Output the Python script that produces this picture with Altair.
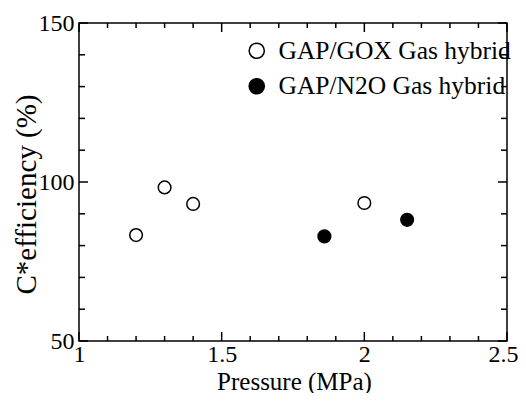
import altair as alt
import pandas as pd

# data
gox_p = [1.2, 1.3, 1.4, 2.0]
gox_e = [83.3, 98.3, 93.1, 93.4]
n2o_p = [1.86, 2.15]
n2o_e = [82.9, 88.1]
series = ["GAP/GOX Gas hybrid", "GAP/N2O Gas hybrid"]

x_major = [1.0, 1.5, 2.0, 2.5]
x_minor = [1.1, 1.2, 1.3, 1.4, 1.6, 1.7, 1.8, 1.9, 2.1, 2.2, 2.3, 2.4]
y_major = [50, 100, 150]
y_minor = [60, 70, 80, 90, 110, 120, 130, 140]

W, H = 428, 318
FONT = "Liberation Serif"

pts = pd.DataFrame({
    "x": gox_p + n2o_p,
    "y": gox_e + n2o_e,
    "s": [series[0]] * len(gox_p) + [series[1]] * len(n2o_p),
})

xs = alt.Scale(domain=[1, 2.5], nice=False, zero=False)
ys = alt.Scale(domain=[50, 150], nice=False, zero=False)

x_axis = alt.Axis(
    values=x_major, format=".1~f", ticks=False, domain=False, grid=False,
    labelFont=FONT, labelFontSize=24, labelColor="black", labelPadding=1,
    labelOverlap=False, labelBound=False, labelFlush=False,
    labelOffset={"condition": {"test": "datum.value >= 2.4", "value": -4}, "value": 0},
    title="Pressure (MPa)", titleFont=FONT, titleFontSize=25,
    titleFontWeight="normal", titleColor="black",
    titleX=215, titleY=48, titleBaseline="alphabetic",
)
y_axis = alt.Axis(
    values=y_major, format="d", ticks=False, domain=False, grid=False,
    labelFont=FONT, labelFontSize=24, labelColor="black", labelPadding=5,
    labelOverlap=False, labelBound=False, labelFlush=False,
    title="C*efficiency (%)", titleFont=FONT, titleFontSize=29,
    titleFontWeight="normal", titleColor="black",
    titleX=-38, titleY=171, titleBaseline="bottom",
)

X = alt.X("x:Q", scale=xs, axis=x_axis, title="Pressure (MPa)")
Y = alt.Y("y:Q", scale=ys, axis=y_axis, title="C*efficiency (%)")

points = alt.Chart(pts).mark_point(
    shape="circle", filled=True, size=160, stroke="black", strokeWidth=1.5, opacity=1
).encode(
    x=X,
    y=Y,
    fill=alt.Fill("s:N", scale=alt.Scale(domain=series, range=["white", "black"]),
                  legend=alt.Legend(
                      title=None, orient="none", legendX=165, legendY=15,
                      labelFont=FONT, labelFontSize=25.5, labelColor="black",
                      labelLimit=400, labelOffset=9, rowPadding=8.5, padding=0,
                      symbolType="circle", symbolSize=230,
                      symbolStrokeColor="black", symbolStrokeWidth=1.5,
                  )),
)


def xticks(vals, length):
    d = pd.DataFrame({"x": vals})
    base = alt.Chart(d).mark_rule(color="black", strokeWidth=1.5)
    bot = base.encode(x=X, y=alt.value(H), y2=alt.value(H - length))
    top = base.encode(x=X, y=alt.value(0), y2=alt.value(length))
    return [bot, top]


def yticks(vals, length):
    d = pd.DataFrame({"y": vals})
    base = alt.Chart(d).mark_rule(color="black", strokeWidth=1.5)
    left = base.encode(y=Y, x=alt.value(0), x2=alt.value(length))
    right = base.encode(y=Y, x=alt.value(W), x2=alt.value(W - length))
    return [left, right]


layers = xticks(x_minor, 5) + xticks(x_major, 9) + yticks(y_minor, 6) + yticks(y_major, 9) + [points]

chart = alt.layer(*layers).properties(
    width=W, height=H,
    autosize=alt.AutoSizeParams(type="none"),
    padding={"left": 71, "top": 15, "right": 11, "bottom": 52},
    background="white",
).configure(font=FONT).configure_view(stroke="black", strokeWidth=1.5)

chart.save("out.html", embed_options={"renderer": "svg", "actions": False})
